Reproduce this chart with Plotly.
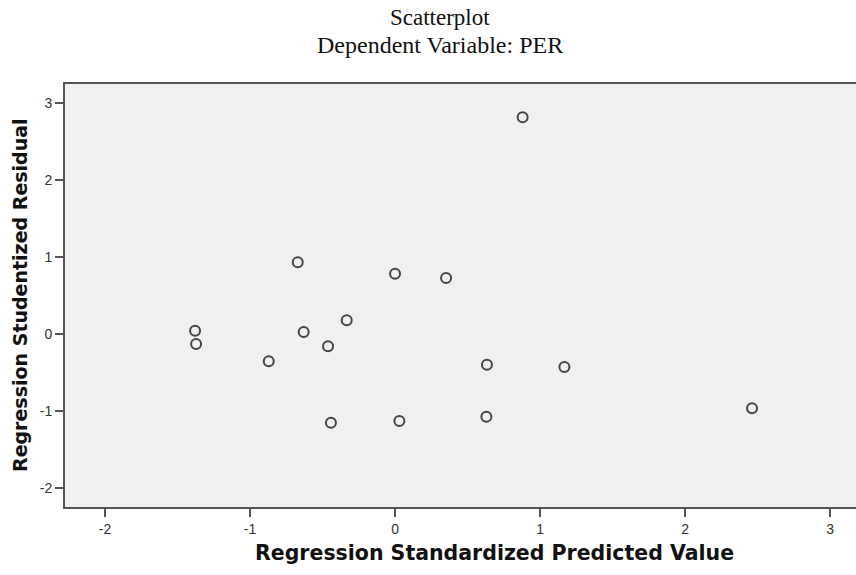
import plotly.graph_objects as go

predicted = [-0.671, 0.000, 0.352, -1.379, -1.372, -0.333, -0.630, -0.462, -0.871,
             0.634, 0.630, 0.030, -0.442, 0.880, 1.168, 2.462]
residual = [0.931, 0.783, 0.727, 0.043, -0.130, 0.178, 0.026, -0.160, -0.355,
            -0.398, -1.074, -1.130, -1.152, 2.814, -0.429, -0.965]
tick_vals = [-2, -1, 0, 1, 2, 3]
tick_text = ["-2", "-1", "0", "1", "2", "3"]

W, H = 856, 575
L, R, T, B = 65, 0, 84, 575 - 507
pw, ph = W - L - R, H - T - B

def px_x(sx):
    return (sx - L) / pw

def px_y(sy):
    return (H - B - sy) / ph

fig = go.Figure()
fig.add_trace(go.Scatter(
    x=predicted, y=residual, mode="markers",
    marker=dict(symbol="circle-open", size=10, color="#444444", line=dict(width=2, color="#444444")),
    showlegend=False, hoverinfo="skip"))

axis_common = dict(
    showgrid=False, zeroline=False, showline=True, linecolor="#555555", linewidth=2,
    ticks="outside", ticklen=8, tickwidth=2, tickcolor="#555555",
    tickvals=tick_vals, ticktext=tick_text,
    tickfont=dict(family="Liberation Sans, Arial", size=14, color="#333333"),
)

fig.update_layout(
    width=W, height=H,
    margin=dict(l=L, r=R, t=T, b=B, autoexpand=False),
    paper_bgcolor="white", plot_bgcolor="#f0f0f0",
    xaxis=dict(range=[-2.276, 3.179], mirror=True, **axis_common),
    yaxis=dict(range=[-2.247, 3.247], mirror=False, **axis_common),
    annotations=[
        dict(text="Scatterplot", x=px_x(440), y=px_y(17), xref="paper", yref="paper",
             showarrow=False, xanchor="center", yanchor="middle",
             font=dict(family="Liberation Serif, Times New Roman", size=23, color="#111111")),
        dict(text="Dependent Variable: PER", x=px_x(440), y=px_y(45), xref="paper", yref="paper",
             showarrow=False, xanchor="center", yanchor="middle",
             font=dict(family="Liberation Serif, Times New Roman", size=24, color="#111111")),
        dict(text="<b>Regression Standardized Predicted Value</b>", x=px_x(494), y=px_y(553),
             xref="paper", yref="paper", showarrow=False, xanchor="center", yanchor="middle",
             font=dict(family="DejaVu Sans", size=20.5, color="#111111")),
        dict(text="<b>Regression Studentized Residual</b>", x=px_x(20), y=px_y(295),
             xref="paper", yref="paper", showarrow=False, xanchor="center", yanchor="middle",
             textangle=-90,
             font=dict(family="DejaVu Sans", size=19, color="#111111")),
    ],
)

fig.write_html("out.html", config={"displayModeBar": False},
               post_script="document.body.style.margin='0';")
